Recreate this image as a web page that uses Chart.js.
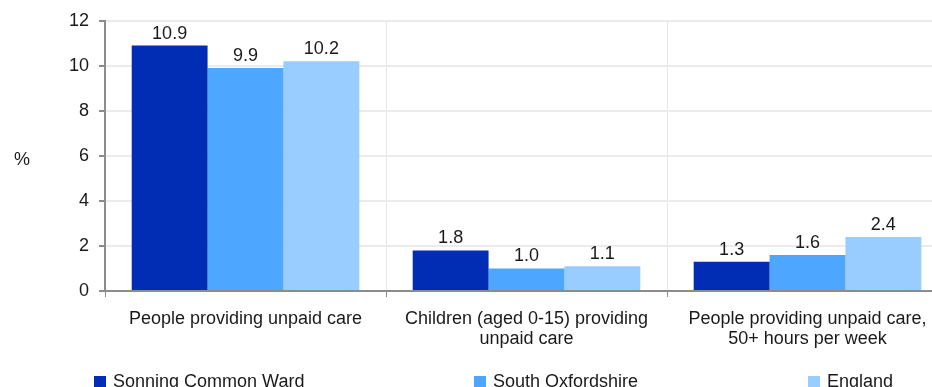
<!DOCTYPE html>
<html>
<head>
<meta charset="utf-8">
<script src="https://cdn.jsdelivr.net/npm/chart.js@4"></script>
<style>
  html, body { margin: 0; padding: 0; background: #fff; overflow: hidden; width: 932px; height: 387px; }
  #wrap { position: relative; width: 960px; height: 400px; }
</style>
</head>
<body>
<div id="wrap"><canvas id="careChart" width="960" height="400"></canvas></div>
<script>
// categories and values
const categories = [
    ['People providing unpaid care'],
    ['Children (aged 0-15) providing', 'unpaid care'],
    ['People providing unpaid care,', '50+ hours per week']
];
const seriesNames = ['Sonning Common Ward', 'South Oxfordshire', 'England'];
const sonningCommon = [10.9, 1.8, 1.3];
const southOxfordshire = [9.9, 1.0, 1.6];
const england = [10.2, 1.1, 2.4];
const yTicks = [0, 2, 4, 6, 8, 10, 12];

const colours = ['#002db3', '#4da6ff', '#99ccff'];
const fontFamily = '"Liberation Sans", Arial, sans-serif';

// value labels above each bar
const barLabels = {
    id: 'barLabels',
    afterDatasetsDraw(chart) {
        const ctx = chart.ctx;
        ctx.save();
        ctx.font = '18px ' + fontFamily;
        ctx.fillStyle = '#1a1a1a';
        ctx.textAlign = 'center';
        ctx.textBaseline = 'alphabetic';
        chart.data.datasets.forEach((ds, i) => {
            chart.getDatasetMeta(i).data.forEach((bar, j) => {
                ctx.fillText(ds.data[j].toFixed(1), bar.x, bar.y - 7);
            });
        });
        ctx.restore();
    }
};

// "%" axis title and the spread-out legend along the bottom
const extras = {
    id: 'extras',
    afterDraw(chart) {
        const ctx = chart.ctx;
        const area = chart.chartArea;
        ctx.save();
        ctx.font = '18px ' + fontFamily;
        ctx.fillStyle = '#1a1a1a';
        ctx.textBaseline = 'middle';
        ctx.textAlign = 'center';
        ctx.fillText('%', 22, (area.top + area.bottom) / 2 + 4);

        const legendX = [area.left - 11, area.left + 369, area.left + 703];
        const legendY = 382;
        ctx.textAlign = 'left';
        seriesNames.forEach((name, i) => {
            ctx.fillStyle = colours[i];
            ctx.fillRect(legendX[i], legendY - 6, 12, 12);
            ctx.fillStyle = '#1a1a1a';
            ctx.fillText(name, legendX[i] + 19, legendY);
        });
        ctx.restore();
    }
};

const ctx = document.getElementById('careChart').getContext('2d');
window.careChart = new Chart(ctx, {
    type: 'bar',
    data: {
        labels: categories,
        datasets: [
            { label: seriesNames[0], data: sonningCommon, backgroundColor: colours[0] },
            { label: seriesNames[1], data: southOxfordshire, backgroundColor: colours[1] },
            { label: seriesNames[2], data: england, backgroundColor: colours[2] }
        ]
    },
    options: {
        responsive: false,
        animation: false,
        layout: { padding: { left: 0, right: 12, top: 12, bottom: 0 } },
        datasets: {
            bar: { categoryPercentage: 0.81, barPercentage: 1.0 }
        },
        plugins: {
            legend: { display: false },
            tooltip: { enabled: false }
        },
        scales: {
            x: {
                grid: {
                    offset: true,
                    color: '#e6e6e6',
                    tickColor: '#8c8c8c',
                    tickLength: 6,
                    lineWidth: 1
                },
                border: { color: '#8c8c8c', width: 2 },
                ticks: {
                    color: '#1a1a1a',
                    font: { family: fontFamily, size: 18, lineHeight: 1.1 },
                    padding: 12,
                    maxRotation: 0,
                    autoSkip: false
                },
                afterFit(scale) { scale.height = 109; }
            },
            y: {
                min: 0,
                max: 12,
                afterBuildTicks(scale) { scale.ticks = yTicks.map(v => ({ value: v })); },
                grid: {
                    color: '#ebebeb',
                    tickColor: '#8c8c8c',
                    tickLength: 6,
                    lineWidth: 2
                },
                border: { color: '#8c8c8c', width: 2 },
                ticks: {
                    color: '#1a1a1a',
                    font: { family: fontFamily, size: 18 },
                    padding: 10
                },
                afterFit(scale) { scale.width = 105; }
            }
        }
    },
    plugins: [barLabels, extras]
});
</script>
</body>
</html>
